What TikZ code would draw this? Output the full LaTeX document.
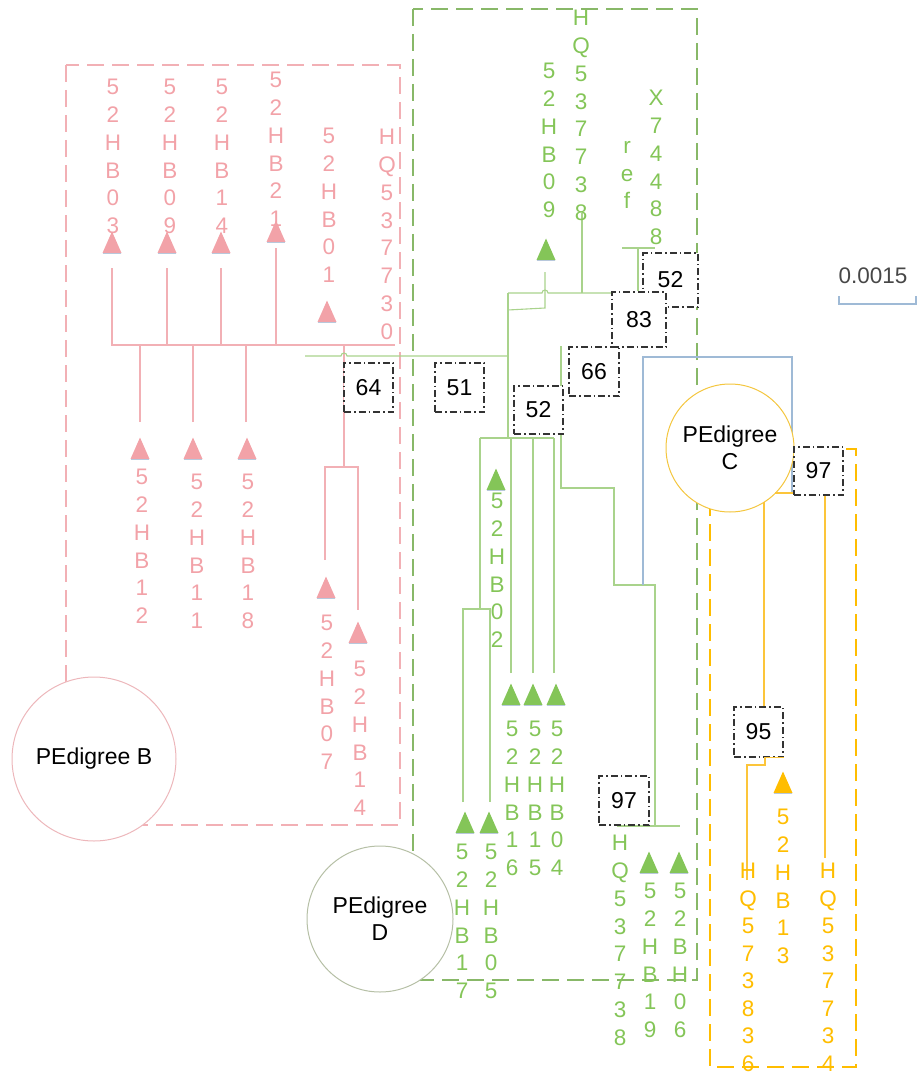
\documentclass[tikz,border=0pt]{standalone}
\usepackage{fontspec}
\setmainfont{Liberation Sans}

\definecolor{pinktxt}{HTML}{F2A2A8}
\definecolor{pinkln}{HTML}{F2B0B5}
\definecolor{greentxt}{HTML}{84C558}
\definecolor{greenln}{HTML}{A9D38C}
\definecolor{greendash}{HTML}{88B868}
\definecolor{goldtxt}{HTML}{FFBD00}
\definecolor{goldln}{HTML}{FCC53A}
\definecolor{bluegrey}{HTML}{9FBAD6}
\definecolor{markshade}{HTML}{B8C8DC}
\definecolor{rimB}{HTML}{EDB7BB}
\definecolor{rimC}{HTML}{F4C63E}
\definecolor{rimD}{HTML}{B6C0A6}
\definecolor{inkgrey}{HTML}{333333}

\newcommand\leaffont{\fontsize{22.5}{27.8}\selectfont}
\newcommand\tightleaffont{\fontsize{22.5}{27.5}\selectfont}
\newcommand\boxfont{\fontsize{23}{27}\selectfont}
% filled leaf marker: colour, x of apex, y of base
\newcommand\leafmark[3]{%
  \fill[#1] (#2-9.5,#3) -- (#2+9.5,#3) -- (#2,#3-21.5) -- cycle;
  \draw[markshade, line width=1.2pt] (#2-9,#3+0.8) -- (#2+9,#3+0.8);}

\tikzset{
  grp/.style={line width=1.3pt, dash pattern=on 17pt off 8pt},
  pl/.style={pinkln, line width=1.1pt},
  gl/.style={greenln, line width=1.1pt},
  yl/.style={goldln, line width=1.1pt},
  leaf/.style={font=\leaffont, align=center, inner sep=0pt, anchor=north},
  bs/.style={draw=inkgrey, fill=white, line width=1.3pt,
    dash pattern=on 7pt off 3pt on 1.5pt off 3pt, font=\boxfont, inner sep=0pt},
  ped/.style={circle, fill=white, line width=1pt, font=\boxfont, align=center, inner sep=0pt},
}

\begin{document}
\begin{tikzpicture}[x=1pt, y=-1pt]
\useasboundingbox (0,0) rectangle (921,1075);

% ---------- group frames ----------
\draw[grp, pinkln] (66,65) rectangle (400,825);
\draw[grp, greendash] (413,9) rectangle (697,980);
\draw[grp, goldtxt] (710,449) rectangle (856,1067);

% ---------- pink clade ----------
\coordinate (p03) at (112,268);
\coordinate (p09) at (167,268);
\coordinate (p14) at (221,268);
\coordinate (p21) at (276,248);
\coordinate (pA)  at (112,345);
\coordinate (pAe) at (395,345);
\coordinate (p12) at (140,422);
\coordinate (p11) at (193,422);
\coordinate (p18) at (246,422);
\coordinate (pB)  at (344,467);
\coordinate (p07) at (325,560);
\coordinate (p14b) at (358,610);
\draw[pl] (p03) |- (pAe);
\draw[pl] (p09) -- (p09 |- pA);
\draw[pl] (p14) -- (p14 |- pA);
\draw[pl] (p21) -- (p21 |- pA);
\draw[pl] (p12) -- (p12 |- pA);
\draw[pl] (p11) -- (p11 |- pA);
\draw[pl] (p18) -- (p18 |- pA);
\draw[pl] (pB) -- (pB |- pA);
\draw[pl] (p07) |- (pB) -| (p14b);

% ---------- green clade ----------
\coordinate (gR)  at (305,356);
\coordinate (gA)  at (508,356);
\coordinate (gB)  at (508,293);
\coordinate (gBe) at (612,293);
\coordinate (gC)  at (508,438);
\coordinate (gCl) at (480,438);
\coordinate (gCr) at (554,438);
\coordinate (g09) at (545,272);
\coordinate (g09b) at (545,308);
\coordinate (g09c) at (508,310);
\coordinate (gHQa) at (582,213);
\coordinate (gRefL) at (622,248);
\coordinate (gRefR) at (655,248);
\coordinate (gRefM) at (638,248);
\coordinate (gD)  at (480,609);
\coordinate (g17) at (463,802);
\coordinate (g05) at (490,802);
\coordinate (g16) at (511,673);
\coordinate (g15) at (533,673);
\coordinate (g04) at (554,673);
\coordinate (gE)  at (561,346);
\coordinate (gF)  at (614,488);
\coordinate (gG)  at (655,585);
\coordinate (gH)  at (655,826);
\coordinate (gHl) at (617,826);
\coordinate (gHr) at (680,826);

\draw[gl] (gR) -- (341,356) arc[start angle=180, end angle=360, radius=3] -- (gA);
\draw[gl] (gB) -- (gC);
\draw[gl] (gB) -- (542,293) arc[start angle=180, end angle=360, radius=3] -- (gBe);
\draw[gl] (g09) -- (g09b) -- (g09c);
\draw[gl] (gHQa) -- (gHQa |- gB);
\draw[gl] (gRefL) -- (gRefR);
\draw[gl] (gCl) -- (gCr);
\draw[gl] (gCl) -- (gD);
\draw[gl] (g17) |- (gD) -| (g05);
\draw[gl] (g16) -- (g16 |- gC);
\draw[gl] (g15) -- (g15 |- gC);
\draw[gl] (g04) -- (g04 |- gC);
\draw[gl] (gE) |- (gF) |- (gG) -- (gH);
\draw[gl] (gHl) -- (gHr);

% ---------- blue link ----------
\coordinate (bB) at (643,585);
\coordinate (bT) at (792,357);
\coordinate (bE) at (792,493);
\draw[bluegrey, line width=1.2pt] (bB) |- (bT) -- (bE);

% ---------- gold clade ----------
\coordinate (yA)  at (764,502);
\coordinate (yB)  at (825,858);
\coordinate (y36) at (747,880);
\coordinate (yCm) at (765,765);
\coordinate (yJ)  at (775,493);

% ---------- pedigree circles ----------
\node[ped, draw=rimB, minimum size=164pt] (pedB) at (94,759) {PEdigree B};
\node[ped, draw=rimD, minimum size=146pt] (pedD) at (380,919) {PEdigree\\D};
\node[ped, draw=rimC, minimum size=128pt] (pedC) at (730,448) {PEdigree\\C};

% ---------- support values ----------
\node[bs, minimum width=49pt, minimum height=49pt] (b64) at (368.5,387.5) {64};
\node[bs, minimum width=49pt, minimum height=49pt] (b51) at (459.5,387.5) {51};
\node[bs, minimum width=49pt, minimum height=48pt] (b52l) at (538.5,410) {52};
\node[bs, minimum width=50pt, minimum height=49pt] (b66) at (594,371.5) {66};
\node[bs, minimum width=55pt, minimum height=54pt] (b52u) at (670.5,280) {52};
\node[bs, minimum width=54pt, minimum height=55pt] (b83) at (639,319.5) {83};
\node[bs, minimum width=49pt, minimum height=48pt] (b97c) at (818.5,471) {97};
\node[bs, minimum width=49pt, minimum height=50pt] (b95) at (758.5,732) {95};
\node[bs, minimum width=50pt, minimum height=49pt] (b97l) at (624,800.5) {97};

\draw[gl] (gRefM) -- (gRefM |- b83.north);
\draw[yl] (yA) -- (yA |- b95.north);
\draw[yl] (yB |- b97c.south) -- (yB);
\draw[yl] (yJ) -- (yJ -| b97c.west);
\draw[yl] (y36) |- (yCm) -- (yCm |- b95.south) -- (b95.south east);

% ---------- leaf markers ----------
\leafmark{pinktxt}{112}{253}
\leafmark{pinktxt}{167}{253}
\leafmark{pinktxt}{221}{253}
\leafmark{pinktxt}{276}{242}
\leafmark{pinktxt}{327}{322}
\leafmark{pinktxt}{140}{459}
\leafmark{pinktxt}{193}{459}
\leafmark{pinktxt}{247}{459}
\leafmark{pinktxt}{326}{598}
\leafmark{pinktxt}{358}{643}
\leafmark{greentxt}{546}{260}
\leafmark{greentxt}{496}{490}
\leafmark{greentxt}{511}{705}
\leafmark{greentxt}{533}{705}
\leafmark{greentxt}{556}{705}
\leafmark{greentxt}{465}{833}
\leafmark{greentxt}{489}{833}
\leafmark{greentxt}{649}{873}
\leafmark{greentxt}{679}{873}
\leafmark{goldtxt}{783}{793}

% ---------- leaf names ----------
\begin{scope}[every node/.style={leaf, text=pinktxt}]
\node (nB03) at (113,79) {5\\2\\H\\B\\0\\3};
\node (nB09) at (170,79) {5\\2\\H\\B\\0\\9};
\node (nB14) at (222,79) {5\\2\\H\\B\\1\\4};
\node (nB21) at (276,72) {5\\2\\H\\B\\2\\1};
\node (nB01) at (329,128) {5\\2\\H\\B\\0\\1};
\node (nQ730) at (387,129) {H\\Q\\5\\3\\7\\7\\3\\0};
\node (nB12) at (142,469) {5\\2\\H\\B\\1\\2};
\node (nB11) at (197,474) {5\\2\\H\\B\\1\\1};
\node (nB18) at (248,474) {5\\2\\H\\B\\1\\8};
\node (nB07) at (327,615) {5\\2\\H\\B\\0\\7};
\node (nB14b) at (360,661) {5\\2\\H\\B\\1\\4};
\end{scope}

\begin{scope}[every node/.style={leaf, text=greentxt}]
\node (nG09) at (549,63) {5\\2\\H\\B\\0\\9};
\node (nQ738a) at (581,10) {H\\Q\\5\\3\\7\\7\\3\\8};
\node (nRef) at (627,141) {r\\e\\f};
\node (nX) at (656,90) {X\\7\\4\\4\\8\\8};
\node (nG02) at (497,493) {5\\2\\H\\B\\0\\2};
\node (nG16) at (512,721) {5\\2\\H\\B\\1\\6};
\node (nG15) at (535,721) {5\\2\\H\\B\\1\\5};
\node (nG04) at (557,721) {5\\2\\H\\B\\0\\4};
\node (nG17) at (462,844) {5\\2\\H\\B\\1\\7};
\node (nG05) at (491,844) {5\\2\\H\\B\\0\\5};
\node (nQ738b) at (620,835) {H\\Q\\5\\3\\7\\7\\3\\8};
\node (nG19) at (650,883) {5\\2\\H\\B\\1\\9};
\node (nG06) at (680,883) {5\\2\\B\\H\\0\\6};
\end{scope}

\begin{scope}[every node/.style={leaf, text=goldtxt}]
\node (nY13) at (783,809) {5\\2\\H\\B\\1\\3};
\node[font=\tightleaffont] (nQ836) at (748,863) {H\\Q\\5\\7\\3\\8\\3\\6};
\node[font=\tightleaffont] (nQ734) at (828,863) {H\\Q\\5\\3\\7\\7\\3\\4};
\end{scope}

% ---------- scale bar ----------
\node[font=\fontsize{22.5}{27}\selectfont, text=inkgrey!90, inner sep=0pt] (scl) at (873,276) {0.0015};
\coordinate (sL) at (839,296);
\coordinate (sR) at (916,304);
\draw[bluegrey, line width=1.2pt] (sL) |- (sR) -- (sR |- sL);

\end{tikzpicture}
\end{document}
